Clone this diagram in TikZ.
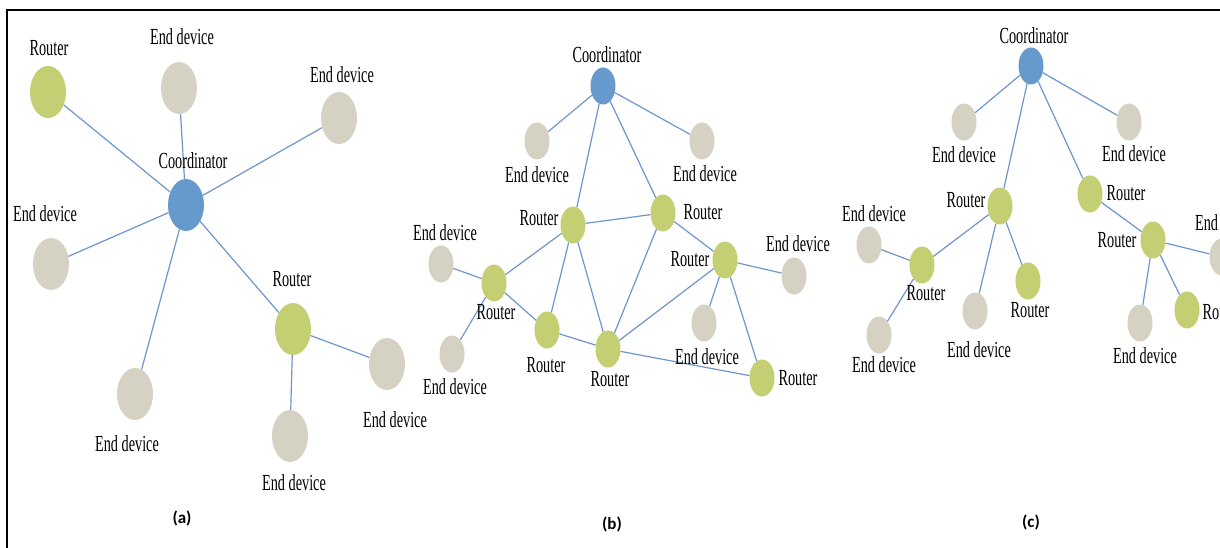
\documentclass[tikz,border=0pt]{standalone}
\usepackage{fontspec}
\setmainfont{Liberation Serif}
\newfontfamily\lblfont[FakeStretch=0.62]{Liberation Serif}
\newfontfamily\capfont{Carlito}
\usetikzlibrary{shapes.geometric}
\definecolor{coordblue}{RGB}{102,153,204}
\definecolor{routergreen}{RGB}{196,206,115}
\definecolor{devicegray}{RGB}{213,210,195}
\definecolor{linkblue}{RGB}{110,150,205}
\tikzset{
  nd/.style={ellipse, inner sep=0pt, draw=none},
  big/.style={nd, minimum width=36pt, minimum height=52pt},
  small/.style={nd, minimum width=25pt, minimum height=37pt},
  coord/.style={fill=coordblue},
  rtr/.style={fill=routergreen},
  dev/.style={fill=devicegray},
  lbl/.style={font=\lblfont\fontsize{23}{26}\selectfont, inner sep=0pt},
  subcap/.style={font=\capfont\bfseries\fontsize{17}{20}\selectfont, inner sep=0pt},
  link/.style={draw=linkblue, line width=1.2pt},
}
\begin{document}
\begin{tikzpicture}[x=1pt, y=-1pt]
\useasboundingbox (0,0) rectangle (1220,548);
\clip (0,0) rectangle (1220,548);
\fill[white] (0,0) rectangle (1220,548);

% frame
\coordinate (fbl) at (7,548);
\coordinate (ftl) at (7,10);
\coordinate (ftr) at (1220,10);
\draw[line width=2.5pt] (fbl) -- (ftl) -- (ftr);

% ---------- (a) star ----------
\node[big, rtr]   (aR1) at (48,92) {};
\node[big, dev]   (aE1) at (179,88) {};
\node[big, dev]   (aE2) at (339,118) {};
\node[big, coord] (aC)  at (186,205) {};
\node[big, dev]   (aE3) at (51,264) {};
\node[big, dev]   (aE4) at (135,394) {};
\node[big, rtr]   (aR2) at (293,329) {};
\node[big, dev]   (aE5) at (290,436) {};
\node[big, dev]   (aE6) at (387,364) {};

\foreach \n in {aR1,aE1,aE2,aE3,aE4,aR2} \draw[link] (aC) -- (\n);
\draw[link] (aR2) -- (aE5);
\draw[link] (aR2) -- (aE6);

\node[lbl] (laR1) at (49,48)  {Router};
\node[lbl] (laE1) at (182,37) {End device};
\node[lbl] (laE2) at (342,75) {End device};
\node[lbl] (laC)  at (193,161) {Coordinator};
\node[lbl] (laE3) at (45,214) {End device};
\node[lbl] (laE4) at (127,444) {End device};
\node[lbl] (laR2) at (292,279) {Router};
\node[lbl] (laE5) at (294,483) {End device};
\node[lbl] (laE6) at (395,420) {End device};

% ---------- (b) mesh ----------
\node[small, coord] (bC)  at (603,86) {};
\node[small, dev]   (bE1) at (537,141) {};
\node[small, dev]   (bE2) at (702,141) {};
\node[small, rtr]   (bRa) at (573,225) {};
\node[small, rtr]   (bRb) at (663,213) {};
\node[small, rtr]   (bRc) at (725,260) {};
\node[small, dev]   (bE3) at (794,276) {};
\node[small, dev]   (bE4) at (704,323) {};
\node[small, rtr]   (bRd) at (762,378) {};
\node[small, rtr]   (bRe) at (494,283) {};
\node[small, dev]   (bE5) at (441,264) {};
\node[small, dev]   (bE6) at (452,354) {};
\node[small, rtr]   (bRf) at (547,330) {};
\node[small, rtr]   (bRg) at (608,349) {};

\draw[link] (bC) -- (bE1);
\draw[link] (bC) -- (bE2);
\draw[link] (bC) -- (bRa);
\draw[link] (bC) -- (bRb);
\draw[link] (bRa) -- (bRb);
\draw[link] (bRa) -- (bRe);
\draw[link] (bRa) -- (bRf);
\draw[link] (bRa) -- (bRg);
\draw[link] (bRb) -- (bRg);
\draw[link] (bRb) -- (bRc);
\draw[link] (bRc) -- (bE3);
\draw[link] (bRc) -- (bE4);
\draw[link] (bRc) -- (bRd);
\draw[link] (bRc) -- (bRg);
\draw[link] (bRe) -- (bE5);
\draw[link] (bRe) -- (bE6);
\draw[link] (bRe) -- (bRf);
\draw[link] (bRf) -- (bRg);
\draw[link] (bRg) -- (bRd);

\node[lbl] (lbC)  at (607,55)  {Coordinator};
\node[lbl] (lbE1) at (537,175) {End device};
\node[lbl] (lbE2) at (705,174) {End device};
\node[lbl] (lbRa) at (539,218) {Router};
\node[lbl] (lbRb) at (703,212) {Router};
\node[lbl] (lbRc) at (690,259) {Router};
\node[lbl] (lbE3) at (798,244) {End device};
\node[lbl] (lbE4) at (707,357) {End device};
\node[lbl] (lbRd) at (798,378) {Router};
\node[lbl] (lbRe) at (496,312) {Router};
\node[lbl] (lbE5) at (445,233) {End device};
\node[lbl] (lbE6) at (455,387) {End device};
\node[lbl] (lbRf) at (546,365) {Router};
\node[lbl] (lbRg) at (610,379) {Router};

% ---------- (c) tree ----------
\node[small, coord] (cC)  at (1031,66) {};
\node[small, dev]   (cE1) at (964,122) {};
\node[small, dev]   (cE2) at (1129,122) {};
\node[small, rtr]   (cR1) at (1000,206) {};
\node[small, rtr]   (cR2) at (1090,194) {};
\node[small, rtr]   (cR3) at (1153,240) {};
\node[small, dev]   (cE3) at (1222,257) {};
\node[small, rtr]   (cR4) at (1187,310) {};
\node[small, dev]   (cE4) at (1140,323) {};
\node[small, rtr]   (cR5) at (922,265) {};
\node[small, dev]   (cE5) at (869,245) {};
\node[small, dev]   (cE6) at (879,335) {};
\node[small, dev]   (cE7) at (975,311) {};
\node[small, rtr]   (cR6) at (1028,281) {};

\draw[link] (cC) -- (cE1);
\draw[link] (cC) -- (cE2);
\draw[link] (cC) -- (cR1);
\draw[link] (cC) -- (cR2);
\draw[link] (cR1) -- (cR5);
\draw[link] (cR1) -- (cE7);
\draw[link] (cR1) -- (cR6);
\draw[link] (cR5) -- (cE5);
\draw[link] (cR5) -- (cE6);
\draw[link] (cR2) -- (cR3);
\draw[link] (cR3) -- (cE3);
\draw[link] (cR3) -- (cE4);
\draw[link] (cR3) -- (cR4);

\node[lbl] (lcC)  at (1034,36)  {Coordinator};
\node[lbl] (lcE1) at (964,155)  {End device};
\node[lbl] (lcE2) at (1134,154) {End device};
\node[lbl] (lcR1) at (966,200)  {Router};
\node[lbl] (lcR2) at (1126,193) {Router};
\node[lbl] (lcR3) at (1117,240) {Router};
\node[lbl] (lcE3) at (1227,223) {End device};
\node[lbl] (lcR4) at (1222,312) {Router};
\node[lbl] (lcE4) at (1145,356) {End device};
\node[lbl] (lcR5) at (926,293)  {Router};
\node[lbl] (lcE5) at (874,214)  {End device};
\node[lbl] (lcE6) at (884,365)  {End device};
\node[lbl] (lcE7) at (979,350)  {End device};
\node[lbl] (lcR6) at (1030,310) {Router};

% captions
\node[subcap] (capa) at (182,518) {(a)};
\node[subcap] (capb) at (612,524) {(b)};
\node[subcap] (capc) at (1031,522) {(c)};
\end{tikzpicture}
\end{document}
